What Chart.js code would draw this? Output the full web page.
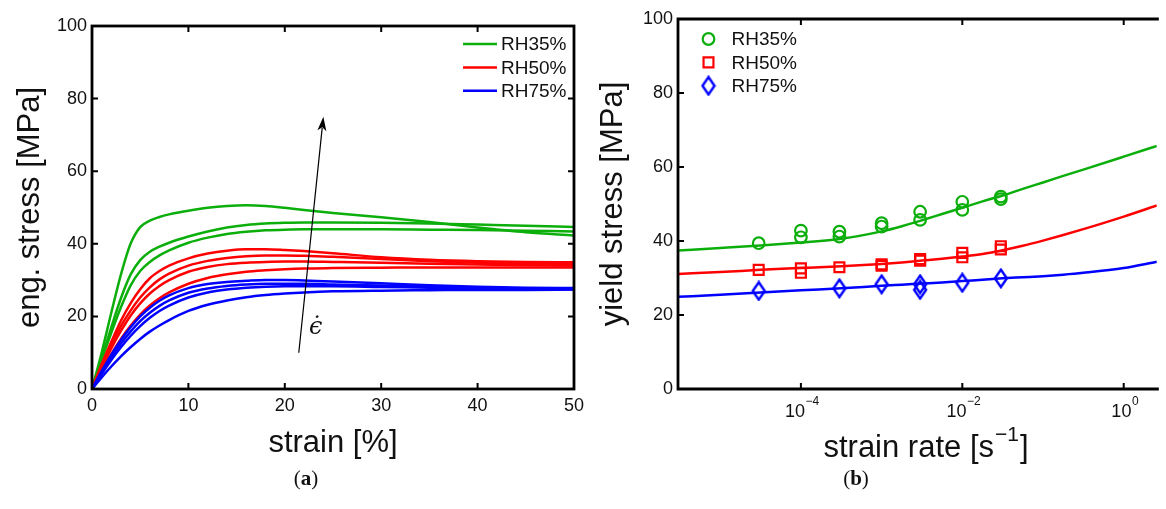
<!DOCTYPE html>
<html>
<head>
<meta charset="utf-8">
<script src="https://cdn.jsdelivr.net/npm/chart.js@4.4.1/dist/chart.umd.min.js"></script>
<style>
  html, body { margin: 0; padding: 0; background: #fff; width: 1166px; height: 509px; overflow: hidden; }
  #wrapA { position: absolute; left: 0; top: 0; width: 590px; height: 509px; }
  #wrapB { position: absolute; left: 590px; top: 0; width: 576px; height: 509px; }
  .cap { position: absolute; width: 80px; text-align: center; font-family: "Liberation Serif", "DejaVu Serif", serif; font-size: 21px; color: #111; }
</style>
</head>
<body>
<div id="wrapA"><canvas id="chartA" width="590" height="509"></canvas></div>
<div id="wrapB"><canvas id="chartB" width="576" height="509"></canvas></div>
<div class="cap" style="left:266px; top:466px;">(<b>a</b>)</div>
<div class="cap" style="left:816px; top:466px;">(<b>b</b>)</div>
<script>
// ---------- (a) engineering stress vs. strain ----------
const strainPct = [0, 1, 2, 3, 4, 5, 6, 7, 8, 10, 12, 14, 16, 18, 20, 22, 25, 30, 35, 40, 45, 50];

const stressRH35 = [
  [0, 10, 21, 31.5, 40, 44.6, 46.4, 47.4, 48.1, 49.1, 49.9, 50.4, 50.6, 50.4, 49.9, 49.3, 48.5, 47.3, 46.0, 44.5, 43.2, 42.3],
  [0, 8.5, 17, 25, 31.5, 35.5, 37.8, 39.2, 40.3, 42.0, 43.4, 44.5, 45.2, 45.6, 45.8, 45.9, 45.9, 45.8, 45.6, 45.3, 45.0, 44.6],
  [0, 8, 15.5, 22.5, 28.5, 32.5, 35, 36.8, 38.2, 40.3, 41.7, 42.7, 43.3, 43.7, 43.9, 44.0, 44.0, 44.0, 43.9, 43.8, 43.6, 43.4]
];
const stressRH50 = [
  [0, 6.8, 13, 18.8, 23.6, 27.5, 30.5, 32.5, 34.0, 36.0, 37.3, 38.1, 38.5, 38.5, 38.3, 38.0, 37.4, 36.3, 35.6, 35.2, 35.0, 34.9],
  [0, 6.3, 12.2, 17.3, 21.6, 25.2, 28.0, 30.2, 31.8, 34.0, 35.3, 36.1, 36.6, 36.8, 36.8, 36.7, 36.4, 35.8, 35.2, 34.8, 34.6, 34.5],
  [0, 5.8, 11.2, 16.0, 20.2, 23.6, 26.3, 28.4, 30.0, 32.3, 33.6, 34.4, 34.8, 35.0, 35.1, 35.1, 35.0, 34.8, 34.5, 34.3, 34.1, 34.0],
  [0, 5.0, 9.6, 13.8, 17.4, 20.5, 23.0, 25.0, 26.6, 29.0, 30.6, 31.6, 32.3, 32.7, 33.0, 33.2, 33.3, 33.4, 33.5, 33.5, 33.5, 33.5]
];
const stressRH75 = [
  [0, 4.9, 9.4, 13.5, 17.0, 20.0, 22.4, 24.3, 25.8, 27.8, 28.9, 29.5, 29.8, 30.0, 30.0, 29.9, 29.6, 29.1, 28.6, 28.2, 27.9, 27.8],
  [0, 4.5, 8.7, 12.5, 15.8, 18.7, 21.0, 22.9, 24.4, 26.5, 27.7, 28.4, 28.8, 29.0, 29.0, 29.0, 28.8, 28.5, 28.2, 27.9, 27.7, 27.6],
  [0, 4.1, 8.0, 11.5, 14.6, 17.3, 19.6, 21.5, 23.0, 25.2, 26.6, 27.4, 27.9, 28.2, 28.3, 28.3, 28.3, 28.1, 27.9, 27.7, 27.6, 27.5],
  [0, 3.2, 6.2, 9.0, 11.5, 13.8, 15.8, 17.5, 19.0, 21.5, 23.2, 24.4, 25.3, 25.9, 26.3, 26.6, 26.9, 27.1, 27.2, 27.3, 27.3, 27.4]
];

// rate arrow (strain %, stress MPa) and its label position
const arrowFrom = [21.45, 10];
const arrowTo = [24.0, 75];
const arrowLabelAt = [23.2, 17];

// ---------- (b) yield stress vs. strain rate ----------
const rateRH35 = [3e-5, 1e-4, 1e-4, 3e-4, 3e-4, 1e-3, 1e-3, 3e-3, 3e-3, 1e-2, 1e-2, 3e-2, 3e-2];
const yieldRH35 = [39.4, 42.8, 41.0, 42.5, 41.2, 44.8, 43.9, 47.9, 45.7, 50.6, 48.4, 52.0, 51.3];
const rateRH50 = [3e-5, 1e-4, 1e-4, 3e-4, 1e-3, 1e-3, 3e-3, 3e-3, 1e-2, 1e-2, 3e-2, 3e-2];
const yieldRH50 = [32.2, 32.6, 31.4, 32.9, 33.7, 33.3, 35.1, 34.7, 36.8, 35.6, 38.6, 37.7];
const rateRH75 = [3e-5, 3e-4, 1e-3, 3e-3, 3e-3, 1e-2, 3e-2];
const yieldRH75 = [26.5, 27.2, 28.3, 28.3, 26.8, 28.7, 29.9];

// model fit curves on a common strain-rate grid
const fitRate = [3.0e-6, 1e-5, 3.16e-5, 1e-4, 3.16e-4, 1e-3, 1.78e-3, 3.16e-3, 5.62e-3, 1e-2, 1.78e-2, 3.16e-2, 5.62e-2, 0.1, 0.178, 0.316, 1, 2.57];
const fitRH35 = [37.4, 38.1, 38.8, 39.6, 40.6, 42.6, 44.0, 45.6, 47.3, 49.0, 50.7, 52.3, 54.1, 55.8, 57.6, 59.3, 62.8, 65.7];
const fitRH50 = [31.1, 31.6, 32.2, 32.7, 33.2, 33.8, 34.2, 34.7, 35.2, 35.8, 36.5, 37.5, 38.7, 40.1, 41.6, 43.2, 46.6, 49.6];
const fitRH75 = [24.9, 25.5, 26.1, 26.7, 27.2, 27.9, 28.2, 28.5, 28.8, 29.2, 29.5, 29.9, 30.2, 30.5, 30.9, 31.4, 32.7, 34.4];

const seriesNames = ['RH35%', 'RH50%', 'RH75%'];
const rateTicks = [1e-4, 1e-2, 1];
const rateTickExp = ['\u22124', '\u22122', '0'];
const stressTicks = [0, 20, 40, 60, 80, 100];
const strainTicks = [0, 10, 20, 30, 40, 50];

// ---------- styling ----------
const GREEN = '#0cae0c', RED = '#ff0000', BLUE = '#0000ff';
const colors = [GREEN, RED, BLUE];
const SANS = '"Liberation Sans", Arial, Helvetica, sans-serif';
const tickFont = { family: SANS, size: 18 };
const titleFont = { family: SANS, size: 31 };
const TXT = '#111';
const LINE_W = 2.5;

function pts(xs, ys) { return xs.map((x, i) => ({ x: x, y: ys[i] })); }

function curveSet(group, color) {
  return group.map(vals => ({
    data: pts(strainPct, vals),
    borderColor: color,
    borderWidth: LINE_W,
    pointRadius: 0,
    cubicInterpolationMode: 'monotone',
    fill: false
  }));
}

// inward tick marks on every side of a plot box
function drawInwardTicks(ctx, a, xs, xVals, ys, yVals, opts) {
  const L = 6;
  ctx.lineWidth = 2;
  ctx.beginPath();
  xVals.forEach(v => {
    const px = xs.getPixelForValue(v);
    ctx.moveTo(px, a.bottom); ctx.lineTo(px, a.bottom - L);
    ctx.moveTo(px, a.top); ctx.lineTo(px, a.top + L);
  });
  yVals.forEach(v => {
    const py = ys.getPixelForValue(v);
    ctx.moveTo(a.left, py); ctx.lineTo(a.left + L, py);
    if (opts.right) { ctx.moveTo(a.right, py); ctx.lineTo(a.right - L, py); }
  });
  ctx.stroke();
}

// ---------- chart (a) ----------
const decorA = {
  id: 'decorA',
  afterDatasetsDraw(chart) {
    const { ctx, chartArea: a, scales: { x, y } } = chart;
    ctx.save();
    ctx.strokeStyle = '#000';
    drawInwardTicks(ctx, a, x, strainTicks, y, stressTicks, { right: true });
    ctx.lineWidth = 2.8;
    ctx.strokeRect(a.left, a.top, a.right - a.left, a.bottom - a.top);

    // strain-rate arrow
    const x0 = x.getPixelForValue(arrowFrom[0]), y0 = y.getPixelForValue(arrowFrom[1]);
    const x1 = x.getPixelForValue(arrowTo[0]), y1 = y.getPixelForValue(arrowTo[1]);
    const ang = Math.atan2(y1 - y0, x1 - x0);
    const hl = 14, hw = 4.5;
    ctx.lineWidth = 1.2;
    ctx.beginPath();
    ctx.moveTo(x0, y0);
    ctx.lineTo(x1 - Math.cos(ang) * hl * 0.8, y1 - Math.sin(ang) * hl * 0.8);
    ctx.stroke();
    ctx.fillStyle = '#000';
    ctx.beginPath();
    ctx.moveTo(x1, y1);
    ctx.lineTo(x1 - Math.cos(ang) * hl + Math.sin(ang) * hw, y1 - Math.sin(ang) * hl - Math.cos(ang) * hw);
    ctx.lineTo(x1 - Math.cos(ang) * hl * 0.75, y1 - Math.sin(ang) * hl * 0.75);
    ctx.lineTo(x1 - Math.cos(ang) * hl - Math.sin(ang) * hw, y1 - Math.sin(ang) * hl + Math.cos(ang) * hw);
    ctx.closePath();
    ctx.fill();

    ctx.fillStyle = TXT;
    ctx.font = 'italic 24px "DejaVu Serif", "Liberation Serif", serif';
    ctx.textAlign = 'center';
    ctx.textBaseline = 'middle';
    ctx.fillText('\u03F5\u0307', x.getPixelForValue(arrowLabelAt[0]), y.getPixelForValue(arrowLabelAt[1]));

    // legend
    ctx.font = '19px ' + SANS;
    ctx.textAlign = 'left';
    seriesNames.forEach((name, i) => {
      const ly = 44 + i * 23.4;
      ctx.strokeStyle = colors[i];
      ctx.lineWidth = LINE_W;
      ctx.beginPath(); ctx.moveTo(463, ly); ctx.lineTo(497, ly); ctx.stroke();
      ctx.fillStyle = TXT;
      ctx.fillText(name, 501, ly + 1);
    });
    ctx.restore();
  }
};

new Chart(document.getElementById('chartA'), {
  type: 'line',
  data: {
    datasets: [
      ...curveSet(stressRH75, BLUE),
      ...curveSet(stressRH50, RED),
      ...curveSet(stressRH35, GREEN)
    ]
  },
  options: {
    responsive: false,
    animation: false,
    devicePixelRatio: 1,
    layout: { padding: { left: 0, top: 26, right: 12, bottom: 0 } },
    plugins: { legend: { display: false }, tooltip: { enabled: false } },
    scales: {
      x: {
        type: 'linear', min: 0, max: 50,
        grid: { display: false, drawTicks: false },
        border: { display: false },
        ticks: { stepSize: 10, font: tickFont, color: TXT, padding: 6, maxRotation: 0 },
        title: { display: true, text: 'strain [%]', font: titleFont, color: TXT, padding: { top: 0, bottom: 47 } },
        afterFit(s) { s.height = 120; }
      },
      y: {
        type: 'linear', min: 0, max: 100,
        grid: { display: false, drawTicks: false },
        border: { display: false },
        ticks: { stepSize: 20, font: tickFont, color: TXT, padding: 5 },
        title: { display: true, text: 'eng. stress [MPa]', font: titleFont, color: TXT, padding: { top: 12, bottom: 0 } },
        afterFit(s) { s.width = 92; }
      }
    }
  },
  plugins: [decorA]
});

// ---------- chart (b) ----------
function diamondImage(color) {
  const c = document.createElement('canvas');
  c.width = 16; c.height = 21;
  const g = c.getContext('2d');
  g.strokeStyle = color; g.lineWidth = 2.4;
  g.beginPath();
  g.moveTo(8, 1.8); g.lineTo(14, 10.5); g.lineTo(8, 19.2); g.lineTo(2, 10.5);
  g.closePath(); g.stroke();
  return c;
}
const markerStyles = [
  { pointStyle: 'circle', radius: 5.8, borderWidth: 2.2 },
  { pointStyle: 'rect', radius: 7, borderWidth: 2.2 },
  { pointStyle: diamondImage(BLUE), radius: 8, borderWidth: 0 }
];

const decorB = {
  id: 'decorB',
  afterDatasetsDraw(chart) {
    const { ctx, chartArea: a, scales: { x, y } } = chart;
    ctx.save();
    ctx.strokeStyle = '#000';
    drawInwardTicks(ctx, a, x, rateTicks, y, stressTicks, { right: false });
    ctx.lineWidth = 2.8;
    ctx.beginPath();
    ctx.moveTo(a.right + 2, a.top); ctx.lineTo(a.left, a.top);
    ctx.lineTo(a.left, a.bottom); ctx.lineTo(a.right + 2, a.bottom);
    ctx.stroke();

    // power-of-ten tick labels
    ctx.fillStyle = TXT;
    ctx.textBaseline = 'alphabetic';
    ctx.textAlign = 'left';
    rateTicks.forEach((v, i) => {
      const px = x.getPixelForValue(v);
      ctx.font = '18px ' + SANS;
      const wb = ctx.measureText('10').width;
      ctx.font = '12px ' + SANS;
      const we = ctx.measureText(rateTickExp[i]).width;
      const sx = px - (wb + we) / 2 + 1;
      ctx.font = '18px ' + SANS;
      ctx.fillText('10', sx, 417);
      ctx.font = '12px ' + SANS;
      ctx.fillText(rateTickExp[i], sx + wb + 0.5, 405);
    });

    // axis title with superscript unit
    const main = 'strain rate [s', sup = '\u22121', tail = ']';
    ctx.font = '31px ' + SANS;
    const w1 = ctx.measureText(main).width, w3 = ctx.measureText(tail).width;
    ctx.font = '21px ' + SANS;
    const w2 = ctx.measureText(sup).width;
    const tx = 335 - (w1 + w2 + w3) / 2;
    ctx.font = '31px ' + SANS;
    ctx.fillText(main, tx, 457);
    ctx.font = '21px ' + SANS;
    ctx.fillText(sup, tx + w1 + 1, 441);
    ctx.font = '31px ' + SANS;
    ctx.fillText(tail, tx + w1 + w2 + 2, 457);

    // legend
    ctx.font = '19px ' + SANS;
    ctx.textBaseline = 'middle';
    seriesNames.forEach((name, i) => {
      const ly = 39 + i * 23.4;
      ctx.strokeStyle = colors[i];
      ctx.lineWidth = markerStyles[i].borderWidth;
      ctx.fillStyle = 'rgba(0,0,0,0)';
      Chart.helpers.drawPoint(ctx, {
        pointStyle: markerStyles[i].pointStyle,
        radius: markerStyles[i].radius,
        borderWidth: markerStyles[i].borderWidth,
        rotation: 0
      }, 118.5, ly);
      ctx.fillStyle = TXT;
      ctx.fillText(name, 141.5, ly + 1);
    });
    ctx.restore();
  }
};

function fitSet(vals, color) {
  return {
    type: 'line',
    data: pts(fitRate, vals),
    borderColor: color,
    borderWidth: LINE_W,
    pointRadius: 0,
    cubicInterpolationMode: 'monotone',
    fill: false,
    order: 2
  };
}
function markSet(xs, ys, color, m) {
  return {
    type: 'scatter',
    data: pts(xs, ys),
    borderColor: color,
    backgroundColor: 'rgba(0,0,0,0)',
    pointStyle: m.pointStyle,
    pointRadius: m.radius,
    pointBorderWidth: m.borderWidth,
    showLine: false,
    order: 1
  };
}

new Chart(document.getElementById('chartB'), {
  type: 'scatter',
  data: {
    datasets: [
      fitSet(fitRH35, GREEN), fitSet(fitRH50, RED), fitSet(fitRH75, BLUE),
      markSet(rateRH35, yieldRH35, GREEN, markerStyles[0]),
      markSet(rateRH50, yieldRH50, RED, markerStyles[1]),
      markSet(rateRH75, yieldRH75, BLUE, markerStyles[2])
    ]
  },
  options: {
    responsive: false,
    animation: false,
    devicePixelRatio: 1,
    layout: { padding: { left: 0, top: 19, right: 0, bottom: 0 } },
    plugins: { legend: { display: false }, tooltip: { enabled: false } },
    scales: {
      x: {
        type: 'logarithmic', min: 3.0e-6, max: 2.57,
        grid: { display: false, drawTicks: false },
        border: { display: false },
        ticks: { display: false },
        afterBuildTicks(s) { s.ticks = rateTicks.map(v => ({ value: v })); },
        afterFit(s) { s.height = 120; }
      },
      y: {
        type: 'linear', min: 0, max: 100,
        grid: { display: false, drawTicks: false },
        border: { display: false },
        ticks: { stepSize: 20, font: tickFont, color: TXT, padding: 5 },
        title: { display: true, text: 'yield stress [MPa]', font: titleFont, color: TXT, padding: { top: 5, bottom: 0 } },
        afterFit(s) { s.width = 88; }
      }
    }
  },
  plugins: [decorB]
});
</script>
</body>
</html>
